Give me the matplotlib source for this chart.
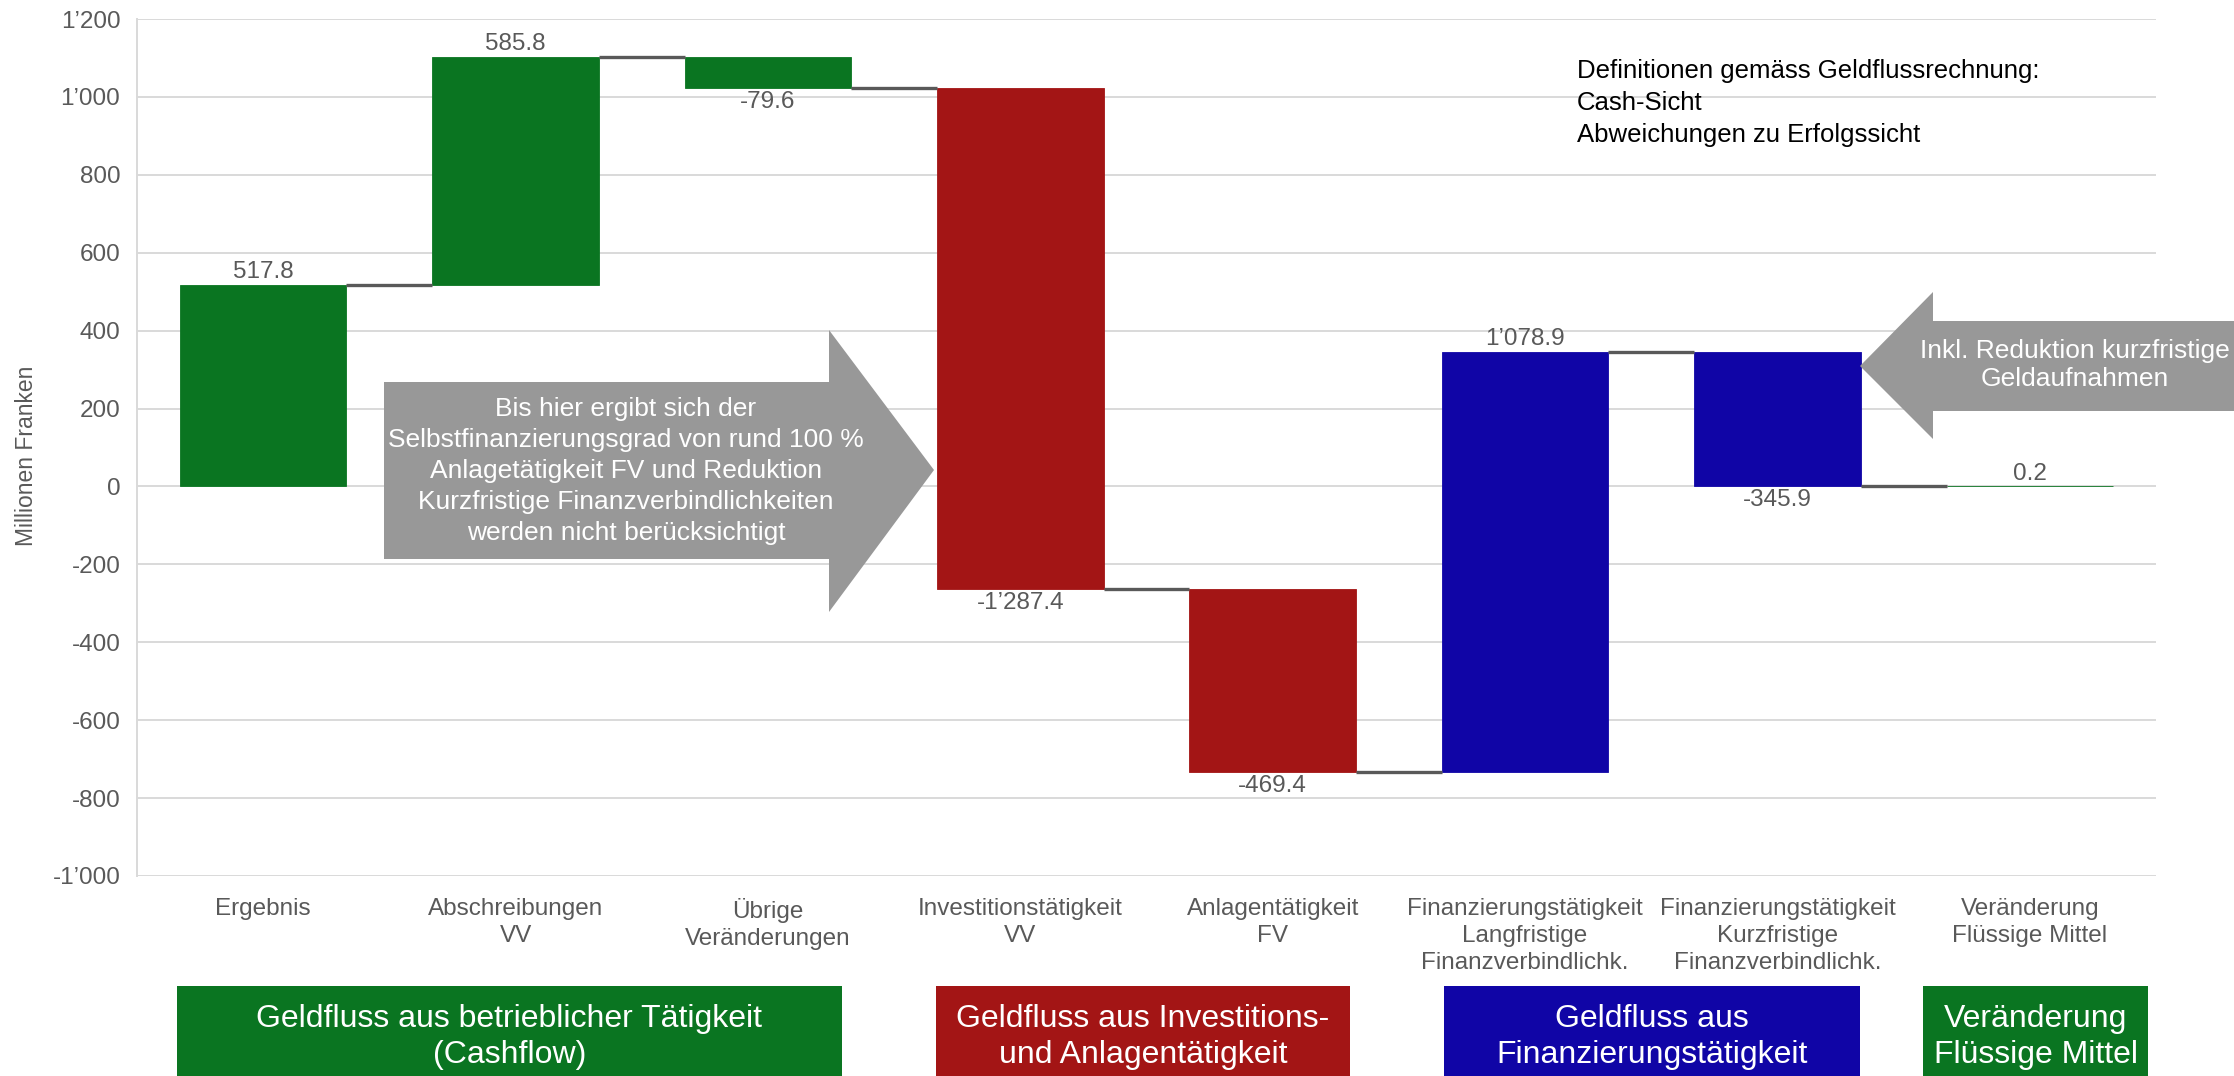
import matplotlib.pyplot as plt
from matplotlib.patches import Polygon, Rectangle
import numpy as np

plt.rcParams['font.family'] = ['Liberation Sans', 'DejaVu Sans']

# data
categories = ['Ergebnis', 'Abschreibungen\nVV', 'Übrige\nVeränderungen',
              'Investitionstätigkeit\nVV', 'Anlagentätigkeit\nFV',
              'Finanzierungstätigkeit\nLangfristige\nFinanzverbindlichk.',
              'Finanzierungstätigkeit\nKurzfristige\nFinanzverbindlichk.',
              'Veränderung\nFlüssige Mittel']
deltas = [517.8, 585.8, -79.6, -1287.4, -469.4, 1078.9, -345.9]
group_names = ['Geldfluss aus betrieblicher Tätigkeit\n(Cashflow)',
               'Geldfluss aus Investitions-\nund Anlagentätigkeit',
               'Geldfluss aus\nFinanzierungstätigkeit',
               'Veränderung\nFlüssige Mittel']
group_of_bar = [0, 0, 0, 1, 1, 2, 2, 3]
yticks = np.arange(-1000, 1201, 200)

GREEN = '#0A7521'
RED = '#A31515'
BLUE = '#1005A6'
GREY_TXT = '#595959'
ARROW = '#989898'
group_colors = [GREEN, RED, BLUE, GREEN]

W, H = 2234, 1076
fig = plt.figure(figsize=(W / 100, H / 100), dpi=100)


def px(x, y):
    return (x / W, 1 - y / H)


ax = fig.add_axes([137 / W, 1 - 876 / H, (2156 - 137) / W, (876 - 19) / H])

# waterfall geometry
cum = np.cumsum(deltas)
starts = np.concatenate([[0], cum[:-1]])
final = cum[-1]
x = np.arange(len(categories))
heights = list(deltas) + [final]
bottoms = list(starts) + [0]
colors = [group_colors[g] for g in group_of_bar]
bw = 0.66

ax.bar(x, heights, bottom=bottoms, width=bw, color=colors, zorder=3,
       edgecolor=colors, linewidth=0.6)

ends = list(cum) + [final]
for i in range(len(x) - 1):
    ax.plot([x[i] + bw / 2, x[i + 1] - bw / 2], [ends[i], ends[i]],
            color=GREY_TXT, lw=2.4, zorder=3, solid_capstyle='butt')


def fmt(v, dec=1):
    s = f'{abs(v):,.{dec}f}'.replace(',', '\u2019')
    return ('-' if v < 0 else '') + s


for i, h in enumerate(heights):
    b = bottoms[i]
    if h >= 0:
        ax.text(x[i], b + h + 4, fmt(h), ha='center', va='bottom',
                fontsize=17.5, color=GREY_TXT, zorder=4)
    else:
        ax.text(x[i], b + h - 8, fmt(h), ha='center', va='top',
                fontsize=17.5, color=GREY_TXT, zorder=4)

ax.set_xlim(-0.5, len(x) - 0.5)
ax.set_ylim(-1000, 1200)
ax.set_yticks(yticks)
ax.set_yticklabels([fmt(v, 0) for v in yticks])
ax.set_xticks(x)
ax.set_xticklabels(categories, linespacing=1.3)
ax.tick_params(axis='both', length=0, labelsize=17.5, labelcolor=GREY_TXT)
ax.tick_params(axis='y', pad=12)
ax.tick_params(axis='x', pad=16)
ax.grid(axis='y', color='#D9D9D9', lw=1.4, zorder=0)
for s in ['top', 'right', 'bottom']:
    ax.spines[s].set_visible(False)
ax.spines['left'].set_color('#D9D9D9')
ax.spines['left'].set_linewidth(1.4)

fig.text(*px(27, 456), 'Millionen Franken', rotation=90, ha='center',
         va='center', fontsize=16.5, color=GREY_TXT)

fig.text(*px(1577, 59), 'Definitionen gemäss Geldflussrechnung:\nCash-Sicht\n'
         'Abweichungen zu Erfolgssicht', ha='left', va='top', fontsize=18.5,
         color='black', linespacing=1.42)

# grey arrows
arrow1 = [(384, 382), (829, 382), (829, 330), (934, 470), (829, 612),
          (829, 559), (384, 559)]
fig.add_artist(Polygon([px(*p) for p in arrow1], closed=True,
                       transform=fig.transFigure, facecolor=ARROW,
                       edgecolor='none', zorder=5))
fig.text(*px(626, 471), 'Bis hier ergibt sich der\nSelbstfinanzierungsgrad von rund 100 %\n'
         'Anlagetätigkeit FV und Reduktion\nKurzfristige Finanzverbindlichkeiten\n'
         'werden nicht berücksichtigt', ha='center', va='center',
         fontsize=19, color='white', linespacing=1.37, zorder=6)

arrow2 = [(1860, 366), (1933, 292), (1933, 321), (2240, 321), (2240, 411),
          (1933, 411), (1933, 439)]
fig.add_artist(Polygon([px(*p) for p in arrow2], closed=True,
                       transform=fig.transFigure, facecolor=ARROW,
                       edgecolor='none', zorder=5))
fig.text(*px(2075, 365), 'Inkl. Reduktion kurzfristige\nGeldaufnahmen', ha='center',
         va='center', fontsize=19, color='white', linespacing=1.25, zorder=6)

# group boxes below the axis
box_px = [(177, 842), (936, 1350), (1444, 1860), (1923, 2148)]
for (x0, x1), name, c in zip(box_px, group_names, group_colors):
    fig.add_artist(Rectangle(px(x0, 1080), (x1 - x0) / W, (1080 - 986) / H,
                             transform=fig.transFigure, facecolor=c,
                             edgecolor='none', zorder=5))
    fig.text(*px((x0 + x1) / 2, 1037), name, ha='center', va='center',
             fontsize=23, color='white', linespacing=1.27, zorder=6)

fig.savefig('out.png', dpi=100)
